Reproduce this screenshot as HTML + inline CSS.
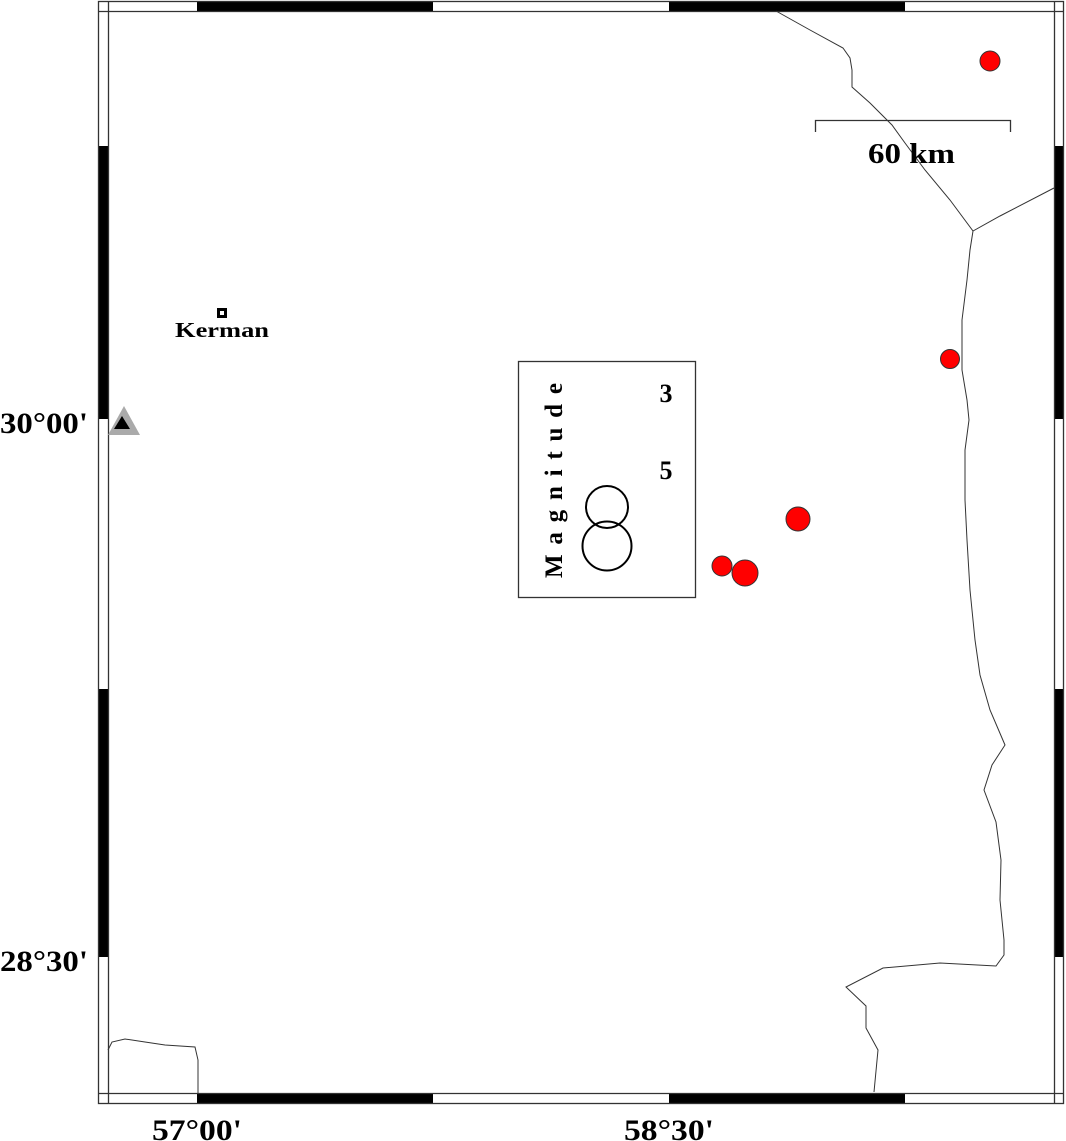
<!DOCTYPE html>
<html><head><meta charset="utf-8"><style>
html,body{margin:0;padding:0;background:#fff;}
svg{display:block;}
text{font-family:"Liberation Serif",serif;font-weight:bold;fill:#000;}
</style></head><body>
<svg width="1066" height="1141" viewBox="0 0 1066 1141" xmlns="http://www.w3.org/2000/svg">
<rect width="1066" height="1141" fill="#fff"/>
<g fill="#000">
<rect x="197" y="1" width="236" height="10"/>
<rect x="669" y="1" width="236" height="10"/>
<rect x="197" y="1093" width="236" height="10"/>
<rect x="669" y="1093" width="236" height="10"/>
<rect x="98" y="146" width="10" height="273"/>
<rect x="98" y="689" width="10" height="268"/>
<rect x="1054" y="146" width="10" height="273"/>
<rect x="1054" y="689" width="10" height="268"/>
</g>
<g fill="none" stroke="#333" stroke-width="1.3">
<rect x="98.5" y="1.5" width="965" height="1102"/>
<line x1="108.5" y1="1" x2="108.5" y2="1104"/>
<line x1="1054.5" y1="1" x2="1054.5" y2="1104"/>
<line x1="98" y1="11.5" x2="1064" y2="11.5"/>
<line x1="98" y1="1093.5" x2="1064" y2="1093.5"/>
</g>
<g fill="none" stroke="#333" stroke-width="1">
<path d="M776,11 L810,30 L843,48 L850,58 L852,70 L852,87 L870,103 L892,125 L905,143 L925,170 L950,200 L973,231 L1000,216 L1054,188"/>
<path d="M973,231 L970,250 L967,280 L962,320 L962,370 L967,400 L969,420 L965,450 L965,500 L967,540 L970,590 L975,640 L980,675 L990,710 L1005,745 L992,765 L984,790 L996,822 L1001,860 L1000,900 L1004,940 L1004,955 L996,966 L940,963 L883,968 L846,987 L866,1006 L866,1028 L878,1050 L874,1092"/>
<path d="M108,1050 L112,1042 L125,1039 L145,1042 L165,1045 L195,1047 L198,1060 L198,1093"/>
</g>
<path d="M815.5,132 V120.5 H1010.5 V132" fill="none" stroke="#333" stroke-width="1.3"/>
<text x="868" y="163" font-size="29" textLength="87" lengthAdjust="spacingAndGlyphs">60 km</text>
<rect x="217" y="308" width="10" height="10" fill="#000"/>
<rect x="220" y="311" width="4" height="4" fill="#fff"/>
<text x="175" y="337" font-size="21" textLength="94" lengthAdjust="spacingAndGlyphs">Kerman</text>
<polygon points="124,406 140,435 108,435" fill="#aaa"/>
<polygon points="122,416 130,429 114,429" fill="#000"/>
<g fill="#f00" stroke="#333" stroke-width="1">
<circle cx="990" cy="61" r="10"/>
<circle cx="950" cy="359" r="9.5"/>
<circle cx="798" cy="519" r="12"/>
<circle cx="722" cy="566" r="10"/>
<circle cx="745" cy="573" r="13"/>
</g>
<rect x="518.5" y="361.5" width="177" height="236" fill="#fff" stroke="#333" stroke-width="1.3"/>
<text transform="translate(562,578) rotate(-90)" font-size="25" textLength="195" lengthAdjust="spacing">Magnitude</text>
<text x="666" y="402" font-size="26" text-anchor="middle">3</text>
<text x="666" y="479" font-size="26" text-anchor="middle">5</text>
<circle cx="607" cy="507" r="21" fill="none" stroke="#000" stroke-width="2"/>
<circle cx="607" cy="546" r="24.5" fill="none" stroke="#000" stroke-width="2"/>
<text x="0" y="433" font-size="30" textLength="88" lengthAdjust="spacingAndGlyphs">30°00'</text>
<text x="0" y="971" font-size="30" textLength="88" lengthAdjust="spacingAndGlyphs">28°30'</text>
<text x="152" y="1140" font-size="30" textLength="90" lengthAdjust="spacingAndGlyphs">57°00'</text>
<text x="624" y="1140" font-size="30" textLength="90" lengthAdjust="spacingAndGlyphs">58°30'</text>
</svg>
</body></html>
